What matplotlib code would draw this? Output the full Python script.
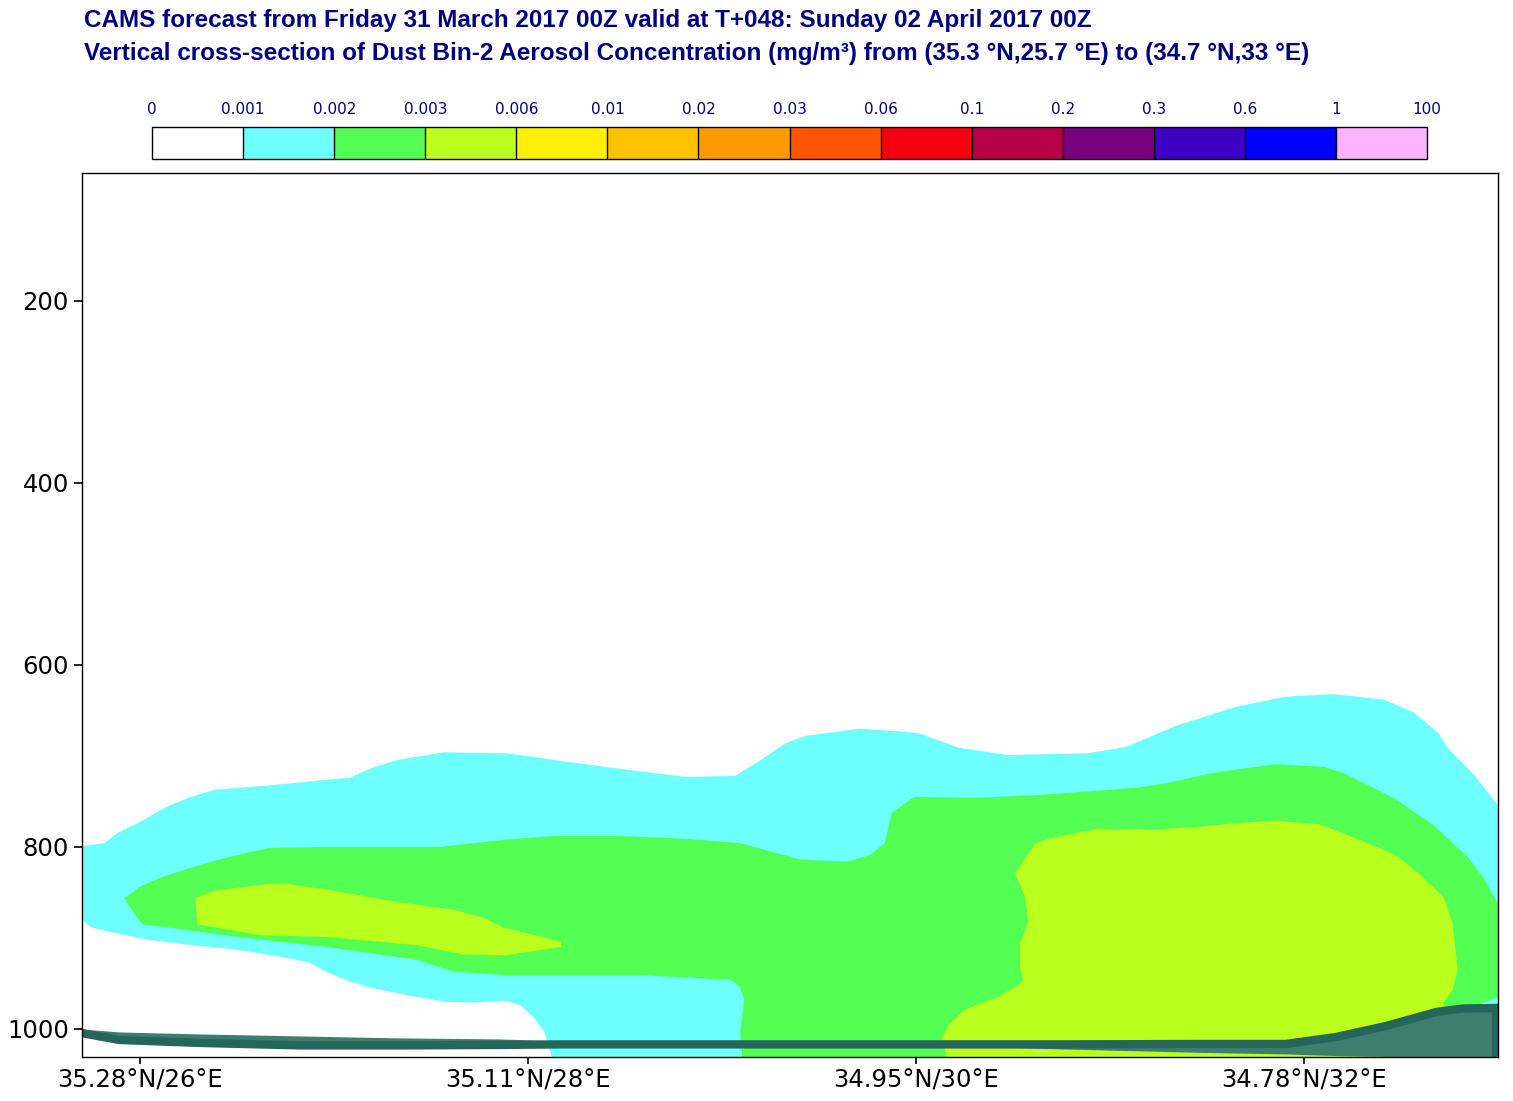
import numpy as np
import matplotlib
matplotlib.use('Agg')
import matplotlib.pyplot as plt
from matplotlib.colors import ListedColormap, BoundaryNorm
import matplotlib.colorbar as mcolorbar

plt.rcParams['font.family'] = ['DejaVu Sans']

# colour scale (mg/m3)
levels = [0, 0.001, 0.002, 0.003, 0.006, 0.01, 0.02, 0.03, 0.06, 0.1, 0.2, 0.3, 0.6, 1, 100]
level_labels = ['0', '0.001', '0.002', '0.003', '0.006', '0.01', '0.02', '0.03', '0.06',
                '0.1', '0.2', '0.3', '0.6', '1', '100']
level_colors = ['#ffffff', '#6effff', '#52ff52', '#bbff1f', '#ffef00', '#ffc000', '#ff9900',
                '#ff5500', '#f5000f', '#b50046', '#7a0082', '#3d00c2', '#0000ff', '#ffb3ff']

# contour regions, lon (deg E) / pressure (hPa)
c001_lon = [25.695, 25.814, 25.881, 25.995, 26.134, 26.248, 26.388, 26.688, 26.967, 27.081,
            27.195, 27.335, 27.567, 27.888, 28.121, 28.467, 28.814, 29.067, 29.202, 29.326,
            29.429, 29.709, 29.916, 30.014, 30.221, 30.474, 30.883, 31.085, 31.338, 31.648,
            31.902, 32.155, 32.409, 32.564, 32.693, 32.740, 32.869, 33.0,
            33.0, 28.121,
            28.085, 28.028, 27.960, 27.888, 27.707, 27.567, 27.381, 27.195, 27.081, 26.967,
            26.874, 26.734, 26.507, 26.274, 26.041, 25.860, 25.741, 25.695]
c001_p = [799, 796, 785, 773, 756, 746, 737, 732, 726, 724,
          713, 704, 696, 697, 704, 714, 723, 722, 704, 686,
          678, 670, 673, 675, 691, 699, 697, 690, 667, 646,
          635, 632, 638, 652, 675, 691, 719, 754,
          1031, 1031,
          1004, 987, 974, 969, 971, 970, 963, 955, 948, 938,
          927, 921, 913, 908, 902, 894, 888, 878]

c002_lon = [25.917, 25.995, 26.114, 26.274, 26.460, 26.667, 26.967, 27.541, 27.888, 28.121,
            28.467, 28.814, 29.098, 29.404, 29.647, 29.760, 29.838, 29.874, 29.988, 30.298,
            30.629, 31.136, 31.291, 31.519, 31.850, 32.104, 32.207, 32.461, 32.667, 32.843,
            32.921, 33.0, 33.0, 32.87, 32.87, 29.104,
            29.093, 29.114, 29.093, 29.047, 28.581, 27.888, 27.614, 27.428, 26.967, 26.507,
            26.160, 26.010]
c002_p = [857, 844, 833, 822, 811, 801, 800, 800, 792, 788,
          788, 791, 796, 814, 816, 809, 796, 763, 745, 746,
          743, 735, 730, 719, 709, 712, 719, 746, 776, 811,
          833, 862, 965, 976, 1031, 1031,
          1004, 968, 954, 946, 941, 941, 937, 924, 910, 899,
          889, 885]

c003a_lon = [26.284, 26.388, 26.641, 26.734, 26.967, 27.314, 27.614, 27.774, 27.867, 28.167,
             28.172, 28.100, 27.888, 27.660, 27.428, 26.967, 26.621, 26.295]
c003a_p = [856, 848, 841, 840, 847, 860, 869, 878, 888, 904,
           910, 912, 919, 918, 908, 899, 897, 885]

c003b_lon = [30.614, 30.702, 30.935, 31.214, 31.442, 31.695, 31.850, 32.078, 32.155, 32.409,
             32.486, 32.590, 32.719, 32.766, 32.792, 32.766, 32.719, 32.719, 30.159,
             30.133, 30.169, 30.247, 30.423, 30.552, 30.536, 30.536, 30.578, 30.562, 30.510]
c003b_p = [796, 790, 780, 781, 778, 773, 771, 775, 781, 803,
           811, 829, 855, 884, 935, 957, 971, 1031, 1031,
           1010, 996, 979, 965, 948, 932, 906, 882, 855, 829]

# orography
oro_lon = [25.695, 25.891, 26.305, 26.822, 27.340, 27.857, 28.167, 28.891, 29.926, 30.754,
           31.478, 31.907, 32.166, 32.424, 32.683, 32.822, 33.0]
oro_top = [1000, 1003.3, 1005.5, 1007.7, 1009.9, 1011.0, 1013.2, 1013.2, 1017.0, 1017.0,
           1016.5, 1016.5, 1008.8, 996.7, 981.3, 977.5, 977.0]
oro_bot = [1004.4, 1012.1, 1015.4, 1018.1, 1018.1, 1017.6, 1017.0, 1017.0, 1017.0, 1022.0,
           1025.8, 1027.5, 1029.3, 1030.2, 1030.8, 1030.8, 1030.8]
line_lon = [25.695, 25.891, 26.305, 26.822, 27.340, 27.857, 28.167, 28.891, 29.926, 30.754,
            31.478, 31.907, 32.166, 32.424, 32.683, 32.822, 32.99, 32.99]
line_p = [1004.4, 1012.1, 1015.4, 1018.1, 1018.1, 1017.6, 1017.0, 1017.0, 1017.0, 1017.0,
          1016.5, 1016.5, 1008.8, 996.7, 981.3, 977.5, 977.0, 1031]

xticks = [26, 28, 30, 32]
xtick_labels = ['35.28°N/26°E', '35.11°N/28°E', '34.95°N/30°E', '34.78°N/32°E']
yticks = [200, 400, 600, 800, 1000]

navy = '#000080'
title_font = ['Liberation Sans', 'DejaVu Sans']
fig = plt.figure(figsize=(15.13, 11.01), dpi=100)

ax = fig.add_axes([0.0542, 0.04, 0.9359, 0.8029])
ax.fill(c001_lon, c001_p, color=level_colors[1], lw=0)
ax.fill(c002_lon, c002_p, color=level_colors[2], lw=0)
ax.fill(c003a_lon, c003a_p, color=level_colors[3], lw=0)
ax.fill(c003b_lon, c003b_p, color=level_colors[3], lw=0)
ax.fill_between(oro_lon, oro_top, oro_bot, color='#3d7f6e', lw=0)
ax.plot(line_lon, line_p, color='#25655a', lw=6, solid_joinstyle='miter')

ax.set_xlim(25.7, 33.0)
ax.set_ylim(1030.8, 59.3)
ax.set_xticks(xticks)
ax.set_xticklabels(xtick_labels, fontsize=17.5)
ax.set_yticks(yticks)
ax.tick_params(axis='y', labelsize=17.5, direction='out', length=6, width=1.2)
ax.tick_params(axis='x', direction='out', length=5, width=1.2, pad=3)
for s in ax.spines.values():
    s.set_linewidth(1.0)

# colour bar
cax = fig.add_axes([0.1005, 0.8556, 0.8427, 0.029])
cmap = ListedColormap(level_colors)
norm = BoundaryNorm(np.arange(len(levels)), cmap.N)
cb = mcolorbar.ColorbarBase(cax, cmap=cmap, norm=norm, boundaries=np.arange(len(levels)),
                            orientation='horizontal', drawedges=True)
cb.dividers.set_color('black')
cb.dividers.set_linewidth(1)
cb.outline.set_linewidth(1)
cax.xaxis.set_ticks_position('top')
cax.set_xticks(np.arange(len(levels)))
cax.set_xticklabels(level_labels, fontsize=11, color=navy)
cax.tick_params(axis='x', length=0, pad=7)

fig.text(0.0555, 0.9818, 'CAMS forecast from Friday 31 March 2017 00Z valid at T+048: Sunday 02 April 2017 00Z',
         fontsize=17.5, fontweight='bold', color=navy, va='center', ha='left', family=title_font)
fig.text(0.0555, 0.951, 'Vertical cross-section of Dust Bin-2 Aerosol Concentration (mg/m³) from (35.3 °N,25.7 °E) to (34.7 °N,33 °E)',
         fontsize=17.5, fontweight='bold', color=navy, va='center', ha='left', family=title_font)

fig.savefig('out.png', dpi=100)
